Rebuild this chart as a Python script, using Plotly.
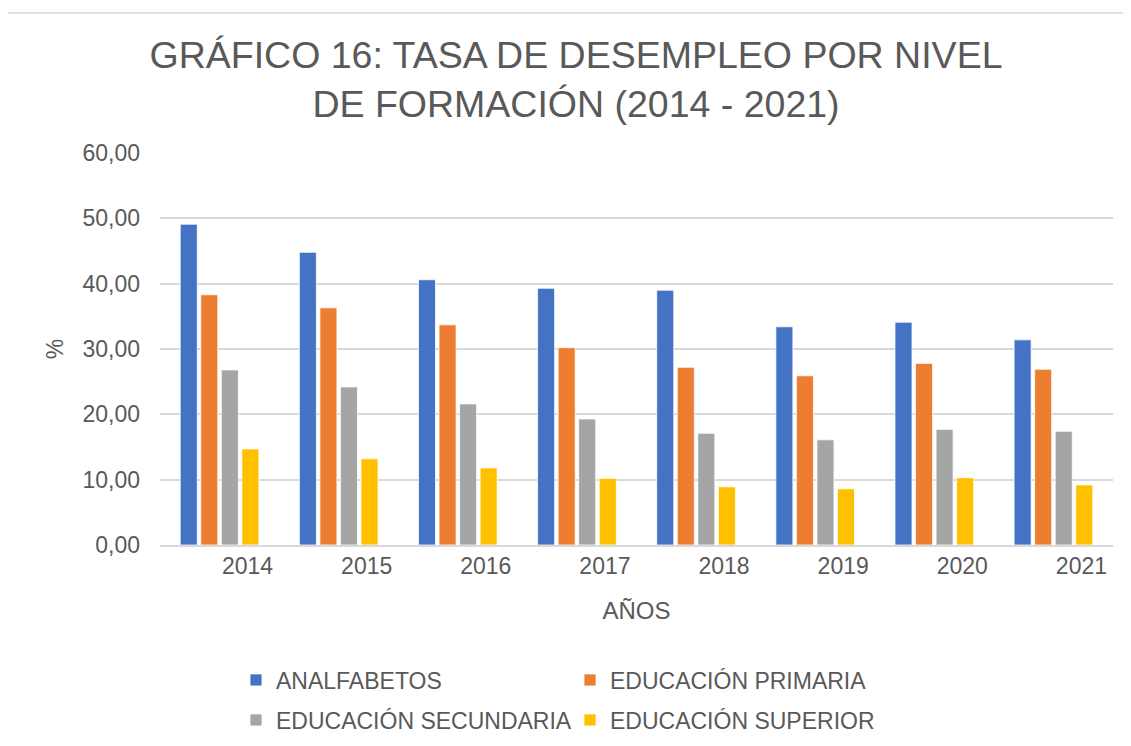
import plotly.graph_objects as go

years = ['2014', '2015', '2016', '2017', '2018', '2019', '2020', '2021']
analfabetos = [49.1, 44.8, 40.6, 39.3, 39.0, 33.4, 34.1, 31.4]
primaria = [38.3, 36.3, 33.7, 30.2, 27.2, 25.9, 27.8, 26.9]
secundaria = [26.8, 24.2, 21.6, 19.3, 17.1, 16.1, 17.7, 17.4]
superior = [14.7, 13.2, 11.8, 10.2, 8.9, 8.6, 10.3, 9.2]

series = [
    ('ANALFABETOS', analfabetos, '#4472C4', 'legend'),
    ('EDUCACIÓN PRIMARIA', primaria, '#ED7D31', 'legend'),
    ('EDUCACIÓN SECUNDARIA', secundaria, '#A5A5A5', 'legend2'),
    ('EDUCACIÓN SUPERIOR', superior, '#FFC000', 'legend2'),
]

TXT = '#595959'
FONT = 'Liberation Sans, Arial, sans-serif'

fig = go.Figure()
for name, vals, col, leg in series:
    fig.add_trace(go.Bar(x=years, y=vals, name=name, legend=leg,
                         marker=dict(color=col, line=dict(color='white', width=0.8))))

# page body adds an 8px offset, so the figure is drawn 8px smaller
OFF = 8
W, H = 1131 - OFF, 746 - OFF
ml, mt = 160 - OFF, 153 - OFF
mr = W - (1113 - OFF)
mb = H - (545 - OFF)
pw = W - ml - mr
ph = H - mt - mb

def px_x(p):
    return (p - OFF - ml) / pw

def px_y(p):
    return (H - mb - (p - OFF)) / ph

legend_common = dict(orientation='h', xanchor='left', yanchor='middle',
                     entrywidth=289, entrywidthmode='pixels',
                     font=dict(size=23, color=TXT, family=FONT),
                     bgcolor='rgba(0,0,0,0)', itemclick=False)

fig.update_layout(
    width=W, height=H,
    margin=dict(l=ml, r=mr, t=mt, b=mb, autoexpand=False),
    template='plotly_white',
    paper_bgcolor='white', plot_bgcolor='white',
    separators=',.',
    font=dict(family=FONT, color=TXT),
    title=dict(text='GRÁFICO 16: TASA DE DESEMPLEO POR NIVEL<br>DE FORMACIÓN (2014 - 2021)',
               x=568 / W, xanchor='center', xref='container',
               y=1 - 60 / H, yanchor='top', yref='container',
               font=dict(size=37.5, color=TXT, family=FONT)),
    barmode='group', bargap=0.31, bargroupgap=0.17,
    legend=dict(x=px_x(236), y=px_y(680), **legend_common),
    legend2=dict(x=px_x(236), y=px_y(720), **legend_common),
    xaxis=dict(title=dict(text='AÑOS', font=dict(size=24, color=TXT), standoff=24),
               tickfont=dict(size=23, color=TXT), ticklabelshift=28,
               showgrid=False, showline=True, linecolor='#D9D9D9', linewidth=1.5,
               ticks='', automargin=False),
    yaxis=dict(title=dict(text='%', font=dict(size=23, color=TXT), standoff=12),
               range=[0, 60], dtick=10, tickformat='.2f',
               tickfont=dict(size=23, color=TXT), ticklabelstandoff=19,
               showgrid=True, gridcolor='#D9D9D9', gridwidth=1.5,
               zeroline=False, showline=False, ticks='', automargin=False),
    shapes=[dict(type='rect', xref='paper', yref='paper',
                 x0=px_x(7), x1=px_x(1145), y0=px_y(760), y1=px_y(13),
                 line=dict(color='#D9D9D9', width=1.5), fillcolor='rgba(0,0,0,0)',
                 layer='below')],
)

fig.write_html('out.html')
